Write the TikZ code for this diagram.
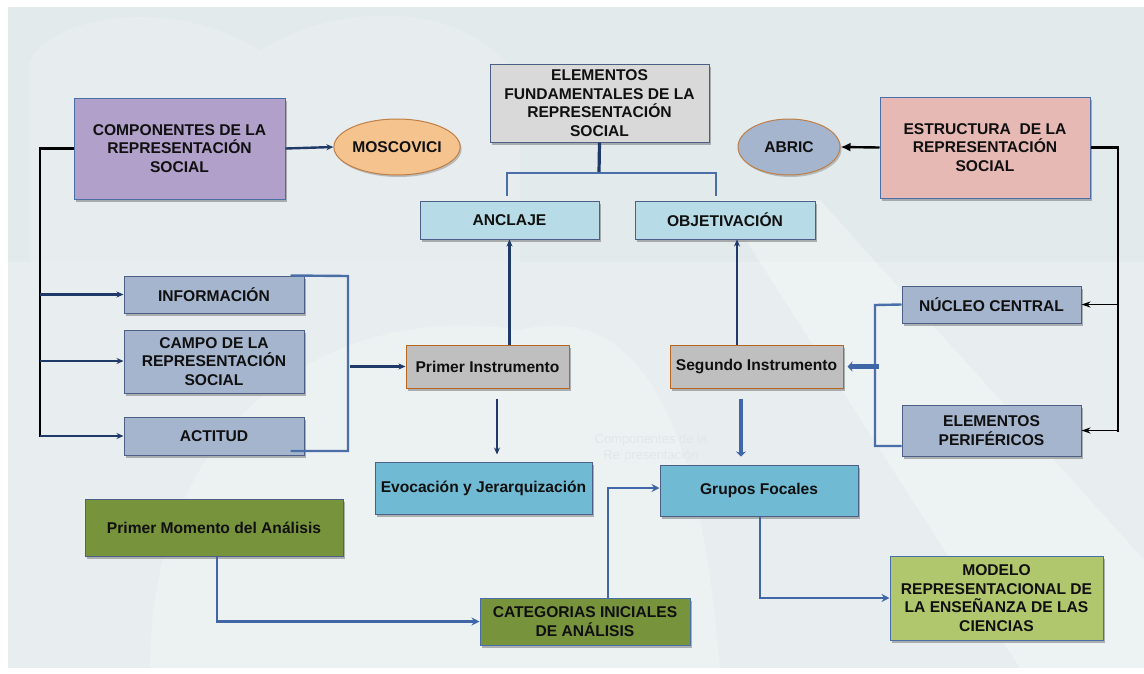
\documentclass[tikz,border=0pt]{standalone}
\usepackage{fontspec}
\setmainfont{Liberation Sans}
\usetikzlibrary{shadows,arrows.meta,shapes.geometric}
\definecolor{bgpanel}{HTML}{E3EAEC}
\definecolor{bglight}{HTML}{ECF2F2}
\definecolor{txt}{HTML}{101010}
\definecolor{bordr}{HTML}{4D5F86}
\definecolor{cpurple}{HTML}{B1A0C9}
\definecolor{corange}{HTML}{F5C48E}
\definecolor{corbrd}{HTML}{BF7E45}
\definecolor{cgray}{HTML}{D9D9D9}
\definecolor{cltblue}{HTML}{B8DCE7}
\definecolor{cslate}{HTML}{A5B5CE}
\definecolor{cpink}{HTML}{E6B9B5}
\definecolor{cmidgray}{HTML}{BFBFBF}
\definecolor{cinsbrd}{HTML}{B8661F}
\definecolor{cmidblue}{HTML}{70BAD3}
\definecolor{colive}{HTML}{77933C}
\definecolor{cltolive}{HTML}{B1C76E}
\definecolor{navy}{HTML}{1F3A68}
\definecolor{brblue}{HTML}{4A6FA8}
\definecolor{arblue}{HTML}{3F67A8}
\definecolor{wmark}{HTML}{E1E8EA}
\begin{document}
\begin{tikzpicture}[x=1pt,y=-1pt,
  box/.style={draw=bordr,line width=1pt,inner sep=2pt,align=center,text=txt,
    font=\fontsize{15.6}{18.5}\selectfont\bfseries,
    drop shadow={shadow xshift=2pt,shadow yshift=-2.5pt,opacity=0.4,fill=black!70}},
  oval/.style={ellipse,draw=corbrd,line width=1pt,inner sep=0pt,text=txt,
    font=\fontsize{15.6}{18.5}\selectfont\bfseries,
    drop shadow={shadow xshift=1.5pt,shadow yshift=-2pt,opacity=0.3,fill=black!70}},
  navyarr/.style={draw=navy,line width=2.4pt,-{Stealth[length=7pt,width=6pt]}},
  blkline/.style={draw=black,line width=2.2pt},
  blkarr/.style={draw=black,line width=1.3pt,-{Stealth[length=9pt,width=6pt]}},
  brk/.style={draw=brblue,line width=2.4pt},
  thinbrk/.style={draw=brblue,line width=1.2pt},
  barr/.style={draw=arblue,line width=2.6pt,-{Stealth[length=8pt,width=8pt]}},
  fatarr/.style={draw=arblue,line width=4.5pt,-{Stealth[length=5pt,width=10pt]}}
]
\useasboundingbox (0,0) rectangle (1144,673);
% background
\fill[white] (0,0) rectangle (1144,673);
\fill[bgpanel] (8,7) rectangle (1144,668);
\fill[bglight,opacity=0.6] (8,262) rectangle (1144,668);
\fill[white,opacity=0.2] (150,668) .. controls (150,420) and (330,300) .. (520,330)
  .. controls (640,300) and (700,420) .. (720,668) -- cycle;
\fill[white,opacity=0.25] (720,200) -- (820,200) -- (1144,560) -- (1144,668) -- (1020,668) -- cycle;
\fill[white,opacity=0.15] (30,60) .. controls (60,10) and (180,0) .. (260,50)
  .. controls (340,0) and (470,0) .. (520,80) -- (520,262) -- (30,262) -- cycle;
\node[text=wmark,align=center,font=\fontsize{13}{16}\selectfont] (wm) at (651,448)
  {Componentes de la\\Re´presentación};

% nodes
\node[box,fill=cpurple,draw=brblue,minimum width=211pt,minimum height=101pt] (comp) at (179.5,148.5)
  {COMPONENTES DE LA\\REPRESENTACIÓN\\SOCIAL};
\node[oval,fill=corange,minimum width=114pt,minimum height=56pt] (mosc) at (397,147) {MOSCOVICI};
\node[box,fill=cgray,minimum width=219pt,minimum height=78pt] (elem) at (599.5,103)
  {ELEMENTOS\\FUNDAMENTALES DE LA\\REPRESENTACIÓN\\SOCIAL};
\node[box,fill=cltblue,minimum width=179pt,minimum height=38pt] (ancl) at (509.5,220) {ANCLAJE};
\node[box,fill=cltblue,minimum width=180pt,minimum height=38pt] (obj) at (725,220) {OBJETIVACIÓN};
\node[oval,fill=cslate,minimum width=102pt,minimum height=56pt] (abric) at (789,147) {ABRIC};
\node[box,fill=cpink,draw=brblue,minimum width=210pt,minimum height=101pt] (estr) at (985,147.5)
  {ESTRUCTURA~ DE LA\\REPRESENTACIÓN\\SOCIAL};
\node[box,fill=cslate,minimum width=179pt,minimum height=37pt] (nuc) at (991.5,304.5) {NÚCLEO CENTRAL};
\node[box,fill=cslate,minimum width=179pt,minimum height=51pt] (perif) at (991.5,430.5)
  {ELEMENTOS\\PERIFÉRICOS};
\node[box,fill=cmidgray,draw=cinsbrd,minimum width=173pt,minimum height=43pt] (seg) at (756.5,366.5)
  {Segundo Instrumento};
\node[box,fill=cmidgray,draw=cinsbrd,minimum width=163pt,minimum height=43pt] (prim) at (487.5,366.5)
  {Primer Instrumento};
\node[box,fill=cslate,minimum width=180pt,minimum height=37pt] (info) at (214,294.5) {INFORMACIÓN};
\node[box,fill=cslate,minimum width=180pt,minimum height=63pt] (campo) at (214,361.5)
  {CAMPO DE LA\\REPRESENTACIÓN\\SOCIAL};
\node[box,fill=cslate,minimum width=180pt,minimum height=38pt] (acti) at (214,436) {ACTITUD};
\node[box,fill=cmidblue,minimum width=217pt,minimum height=52pt] (evoc) at (483.5,488)
  {Evocación y Jerarquización};
\node[box,fill=cmidblue,minimum width=198pt,minimum height=51pt] (grup) at (759,490.5) {Grupos Focales};
\node[box,fill=colive,minimum width=258pt,minimum height=57pt] (pmom) at (214,527.5)
  {Primer Momento del Análisis};
\node[box,fill=colive,draw=brblue,minimum width=210pt,minimum height=47pt] (cat) at (585,621.5)
  {CATEGORIAS INICIALES\\DE ANÁLISIS};
\node[box,fill=cltolive,draw=brblue,minimum width=213pt,minimum height=84pt] (mod) at (996.5,598)
  {MODELO\\REPRESENTACIONAL DE\\LA ENSEÑANZA DE LAS\\CIENCIAS};

% coordinates
\coordinate (lb) at (40,437);
\coordinate (rb) at (1118,432);
\coordinate (ej) at (599,173);
\coordinate (e1) at (507,196);
\coordinate (e2) at (716,196);
\coordinate (bl1) at (348,276);
\coordinate (bl2) at (348,451);
\coordinate (rbt) at (875,305);
\coordinate (rbb) at (875,446);

% connectors
\draw[navyarr] (comp.east) -- (mosc.west);
\draw[draw=black,line width=2.4pt,-{Latex[length=10pt,width=9pt]}] (estr.west) -- (abric.east);
\draw[blkline] (comp.west) -| (lb);
\draw[navyarr] (info.west -| lb) -- (info.west);
\draw[navyarr] ([yshift=0.5pt]campo.west -| lb) -- ([yshift=0.5pt]campo.west);
\draw[navyarr] (acti.west -| lb) -- (acti.west);
\draw[blkline] (estr.east) -| (rb);
\draw[blkarr] (nuc.east -| rb) -- (nuc.east);
\draw[blkarr] (perif.east -| rb) -- (perif.east);
\draw[draw=navy,line width=3.2pt] (elem.south) -- (ej);
\draw[thinbrk] (e1) |- (ej) -| (e2);
\draw[brk] ([xshift=-14pt]info.north east) -- (bl1) -- (bl2) -- ([xshift=-14pt]bl2 -| acti.east);
\draw[navyarr] ([xshift=2pt]bl1 |- prim.west) -- (prim.west);
\draw[navyarr] (ancl.south |- prim.north) -- (ancl.south);
\draw[navyarr] ([xshift=-19.5pt]seg.north) -- ([xshift=-19.5pt]seg.north |- obj.south);
\draw[navyarr,shorten <=10pt,shorten >=7pt] ([xshift=9.5pt]prim.south) -- ([xshift=9.5pt]prim.south |- evoc.north);
\draw[fatarr,shorten <=10pt,shorten >=8pt] ([xshift=-15.5pt]seg.south) -- ([xshift=-15.5pt]seg.south |- grup.north);
\draw[brk] (nuc.west) -- (rbt) -- (rbb) -- (rbb -| perif.west);
\draw[fatarr] ([xshift=4pt]rbt |- seg.east) -- ([xshift=4pt]seg.east);
\draw[barr] ([xshift=3pt]pmom.south) |- (cat.west);
\draw[barr] ([xshift=23pt]cat.north) |- ([yshift=2.5pt]grup.west);
\draw[barr] ([xshift=1pt]grup.south) |- (mod.west);
\end{tikzpicture}
\end{document}
